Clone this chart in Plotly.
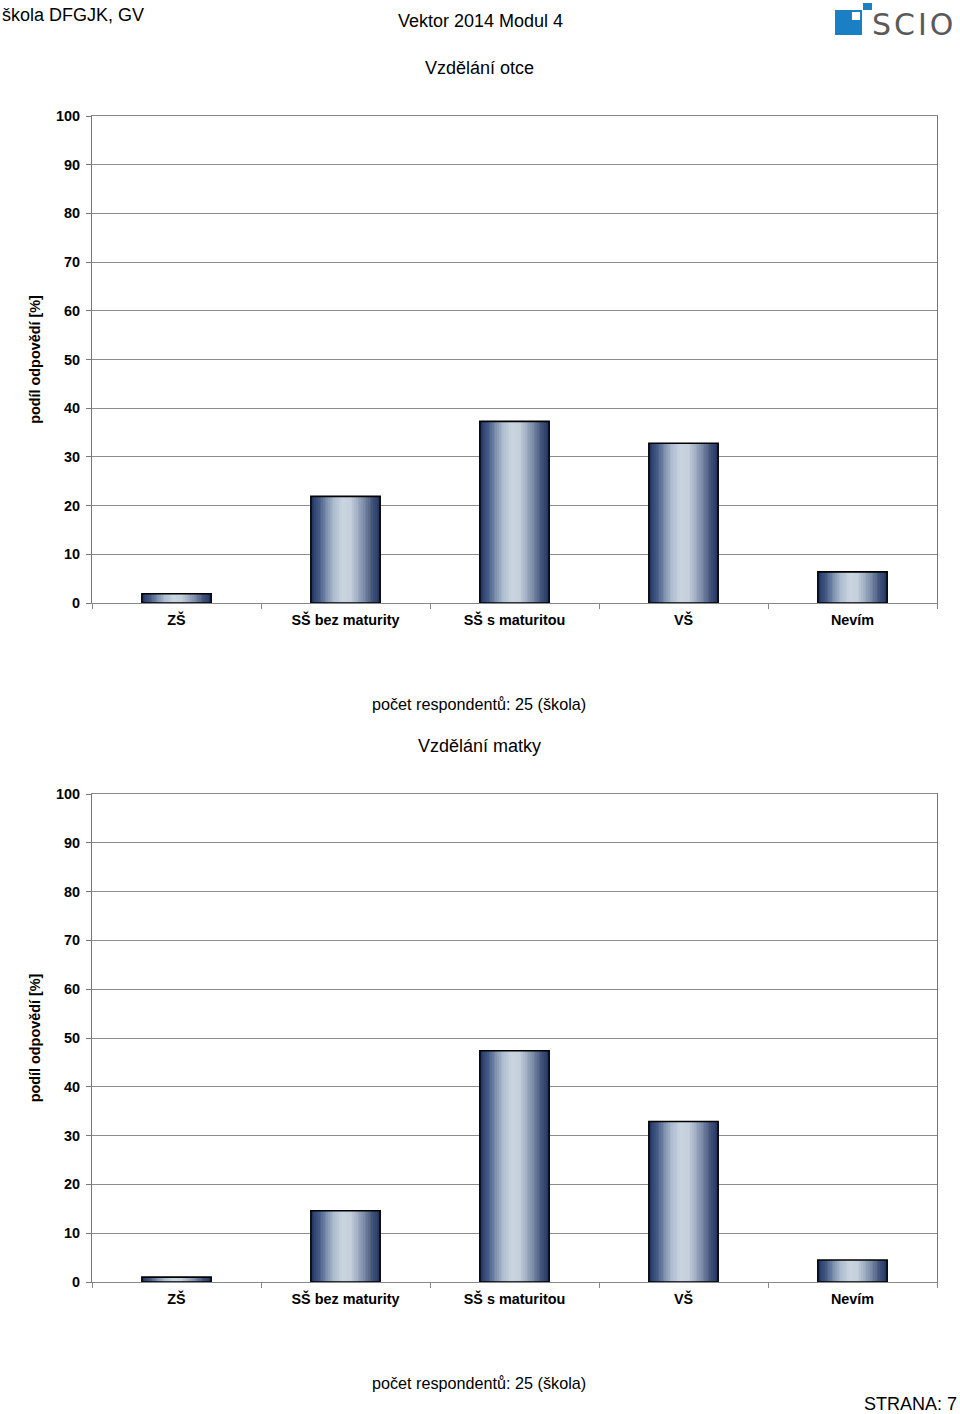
import plotly.graph_objects as go

# ---------------- data ----------------
categories = ["ZŠ", "SŠ bez maturity", "SŠ s maturitou", "VŠ", "Nevím"]
otce_values = [1.9, 21.9, 37.3, 32.8, 6.4]
matky_values = [1.0, 14.6, 47.4, 32.9, 4.5]
y_ticks = [0, 10, 20, 30, 40, 50, 60, 70, 80, 90, 100]
header_left = "škola DFGJK, GV"
header_center = "Vektor 2014 Modul 4"
title_otce = "Vzdělání otce"
title_matky = "Vzdělání matky"
footer_text = "počet respondentů: 25 (škola)"
page_text = "STRANA: 7"
y_title = "podíl odpovědí [%]"

FONT = "Liberation Sans, Arial, sans-serif"

# gradient for bars (horizontal, dark edges, light middle)
stops = [(0.0, (30, 50, 96)), (0.12, (70, 92, 134)), (0.32, (170, 185, 204)),
         (0.45, (201, 212, 224)), (0.58, (196, 207, 219)), (0.75, (130, 145, 172)),
         (0.9, (62, 80, 120)), (1.0, (32, 50, 94))]


def grad_color(t):
    for (p0, c0), (p1, c1) in zip(stops[:-1], stops[1:]):
        if p0 <= t <= p1:
            f = (t - p0) / (p1 - p0) if p1 > p0 else 0
            c = [round(a + (b - a) * f) for a, b in zip(c0, c1)]
            return f"rgb({c[0]},{c[1]},{c[2]})"
    return "rgb(32,50,94)"


BAR_W = 0.41
N_STRIPS = 40

fig = go.Figure()


def add_bars(values, xa, ya):
    sw = BAR_W / N_STRIPS
    for i in range(N_STRIPS):
        t = (i + 0.5) / N_STRIPS
        w = sw * 2 if i < N_STRIPS - 1 else sw
        fig.add_trace(go.Bar(
            x=categories, y=values, xaxis=xa, yaxis=ya,
            width=w, offset=-BAR_W / 2 + i * sw,
            marker=dict(color=grad_color(t), line=dict(width=0)),
            showlegend=False, hoverinfo="skip"))
    fig.add_trace(go.Bar(
        x=categories, y=values, xaxis=xa, yaxis=ya,
        width=BAR_W, offset=-BAR_W / 2,
        marker=dict(color="rgba(0,0,0,0)", line=dict(color="black", width=1.6)),
        showlegend=False, hoverinfo="skip"))


add_bars(otce_values, "x", "y")
add_bars(matky_values, "x2", "y2")

W, H = 960, 1414
x_dom = [92 / W, 937 / W]
y_dom1 = [1 - 603 / H, 1 - 116 / H]
y_dom2 = [1 - 1282 / H, 1 - 794 / H]

xcommon = dict(type="category", showgrid=False, tickson="boundaries", ticks="outside",
               ticklen=5, tickcolor="#888888", linecolor="#888888", linewidth=1,
               mirror=True, ticklabelstandoff=4,
               tickfont=dict(family=FONT, size=14.4, color="black", weight="bold"),
               automargin=False, fixedrange=True)
ycommon = dict(range=[0, 100], tickvals=y_ticks, showgrid=True, gridcolor="#8c8c8c",
               gridwidth=1, ticks="outside", ticklen=5, tickcolor="#777777",
               linecolor="#777777", linewidth=1, mirror=True, zeroline=False,
               ticklabelstandoff=3,
               tickfont=dict(family=FONT, size=14.4, color="black", weight="bold"),
               title=dict(text=y_title, font=dict(family=FONT, size=14.4, color="black", weight="bold"),
                          standoff=12),
               automargin=False, fixedrange=True)

fig.update_layout(
    width=W, height=H, autosize=False,
    margin=dict(l=0, r=0, t=0, b=0),
    paper_bgcolor="white", plot_bgcolor="white",
    barmode="overlay", bargap=0,
    showlegend=False,
    xaxis=dict(domain=x_dom, anchor="y", **xcommon),
    yaxis=dict(domain=y_dom1, anchor="x", **ycommon),
    xaxis2=dict(domain=x_dom, anchor="y2", **xcommon),
    yaxis2=dict(domain=y_dom2, anchor="x2", **ycommon),
)


def txt(text, x, y, size, xanchor="center", yanchor="middle"):
    fig.add_annotation(text=text, x=x / W, y=1 - y / H, xref="paper", yref="paper",
                       showarrow=False, xanchor=xanchor, yanchor=yanchor,
                       font=dict(family=FONT, size=size, color="black"))


txt(header_left, 0, 15, 18, xanchor="left")
txt(header_center, 480, 21, 18)
txt(title_otce, 479, 68, 18)
txt(footer_text, 479, 704, 16.2)
txt(title_matky, 479, 746, 18)
txt(footer_text, 479, 1383, 16.2)
txt(page_text, 959, 1404, 18, xanchor="right")

# SCIO logo (decoration)
BLUE = "#1b7fc4"
fig.add_shape(type="rect", xref="paper", yref="paper",
              x0=835 / W, x1=862 / W, y0=1 - 35 / H, y1=1 - 10 / H,
              fillcolor=BLUE, line=dict(width=0))
fig.add_shape(type="rect", xref="paper", yref="paper",
              x0=852 / W, x1=860 / W, y0=1 - 20 / H, y1=1 - 12 / H,
              fillcolor="white", line=dict(width=0))
fig.add_shape(type="rect", xref="paper", yref="paper",
              x0=863 / W, x1=872 / W, y0=1 - 10 / H, y1=1 - 3 / H,
              fillcolor=BLUE, line=dict(width=0))
fig.add_annotation(text="S\u200aC\u200aI\u200aO", x=870 / W, y=1 - 24 / H, xref="paper", yref="paper",
                   showarrow=False, xanchor="left", yanchor="middle",
                   font=dict(family="DejaVu Sans, sans-serif", size=30, color="#5a5a5a"))

fig.write_html("out.html", config={"displayModeBar": False, "staticPlot": True},
               post_script="document.body.style.margin='0px';document.body.style.padding='0px';")
